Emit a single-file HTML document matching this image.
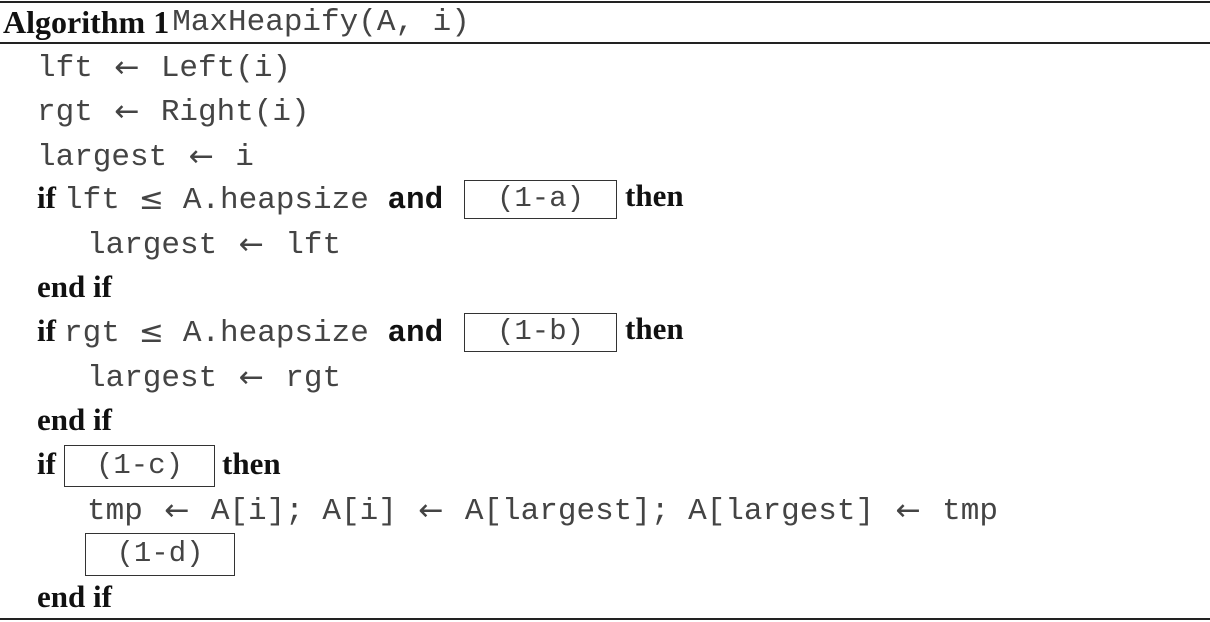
<!DOCTYPE html>
<html><head><meta charset="utf-8"><style>
html,body{margin:0;padding:0;background:#fff;}
body{width:1210px;height:622px;position:relative;overflow:hidden;color:#111;}
.rule{position:absolute;left:0;width:1210px;background:#222;}
.row{position:absolute;height:44px;line-height:44px;white-space:pre;display:flex;align-items:center;}
.m{font-family:"Liberation Mono",monospace;font-size:31px;color:#444;position:relative;top:3px;}
.mb{font-family:"Liberation Mono",monospace;font-size:31px;font-weight:bold;position:relative;top:3px;}
.b{font-family:"Liberation Serif",serif;font-size:31px;font-weight:bold;}
.ar{display:inline-block;width:68px;text-align:center;font-family:"DejaVu Sans",sans-serif;font-size:30px;color:#444;position:relative;top:2px;}
.box{position:absolute;border:1.5px solid #333;box-sizing:border-box;font-family:"Liberation Mono",monospace;font-size:29px;color:#444;text-align:center;}
</style></head><body>
<div class="rule" style="top:1px;height:2px"></div>
<div class="rule" style="top:42px;height:2px"></div>
<div class="rule" style="top:618px;height:2px"></div>

<div class="row" style="left:3px;top:0px;"><span class="b" style="font-size:32px">Algorithm 1</span><span class="m" style="margin-left:3px;top:1px">MaxHeapify(A, i)</span></div>

<div class="row" style="left:37px;top:44px;"><span class="m">lft</span><span class="ar">←</span><span class="m">Left(i)</span></div>
<div class="row" style="left:37px;top:88px;"><span class="m">rgt</span><span class="ar">←</span><span class="m">Right(i)</span></div>
<div class="row" style="left:37px;top:133px;"><span class="m">largest</span><span class="ar">←</span><span class="m">i</span></div>

<div class="row" style="left:37px;top:176px;"><span class="b">if</span></div>
<div class="row" style="left:64px;top:176px;"><span class="m">lft</span><span class="ar" style="width:63px">≤</span><span class="m">A.heapsize </span><span class="mb">and</span></div>
<div class="box" style="left:464px;top:180px;width:153px;height:39px;line-height:36px;">(1-a)</div>
<div class="row" style="left:625px;top:174px;"><span class="b">then</span></div>

<div class="row" style="left:87px;top:221px;"><span class="m">largest</span><span class="ar">←</span><span class="m">lft</span></div>
<div class="row" style="left:37px;top:265px;"><span class="b">end if</span></div>

<div class="row" style="left:37px;top:309px;"><span class="b">if</span></div>
<div class="row" style="left:64px;top:309px;"><span class="m">rgt</span><span class="ar" style="width:63px">≤</span><span class="m">A.heapsize </span><span class="mb">and</span></div>
<div class="box" style="left:464px;top:313px;width:153px;height:39px;line-height:36px;">(1-b)</div>
<div class="row" style="left:625px;top:307px;"><span class="b">then</span></div>

<div class="row" style="left:87px;top:354px;"><span class="m">largest</span><span class="ar">←</span><span class="m">rgt</span></div>
<div class="row" style="left:37px;top:398px;"><span class="b">end if</span></div>

<div class="row" style="left:37px;top:442px;"><span class="b">if</span></div>
<div class="box" style="left:64px;top:445px;width:151px;height:42px;line-height:39px;">(1-c)</div>
<div class="row" style="left:222px;top:442px;"><span class="b">then</span></div>

<div class="row" style="left:87px;top:487px;"><span class="m">tmp</span><span class="ar">←</span><span class="m">A[i]; A[i]</span><span class="ar">←</span><span class="m">A[largest]; A[largest]</span><span class="ar">←</span><span class="m">tmp</span></div>
<div class="box" style="left:85px;top:533px;width:150px;height:43px;line-height:40px;">(1-d)</div>
<div class="row" style="left:37px;top:575px;"><span class="b">end if</span></div>
</body></html>
